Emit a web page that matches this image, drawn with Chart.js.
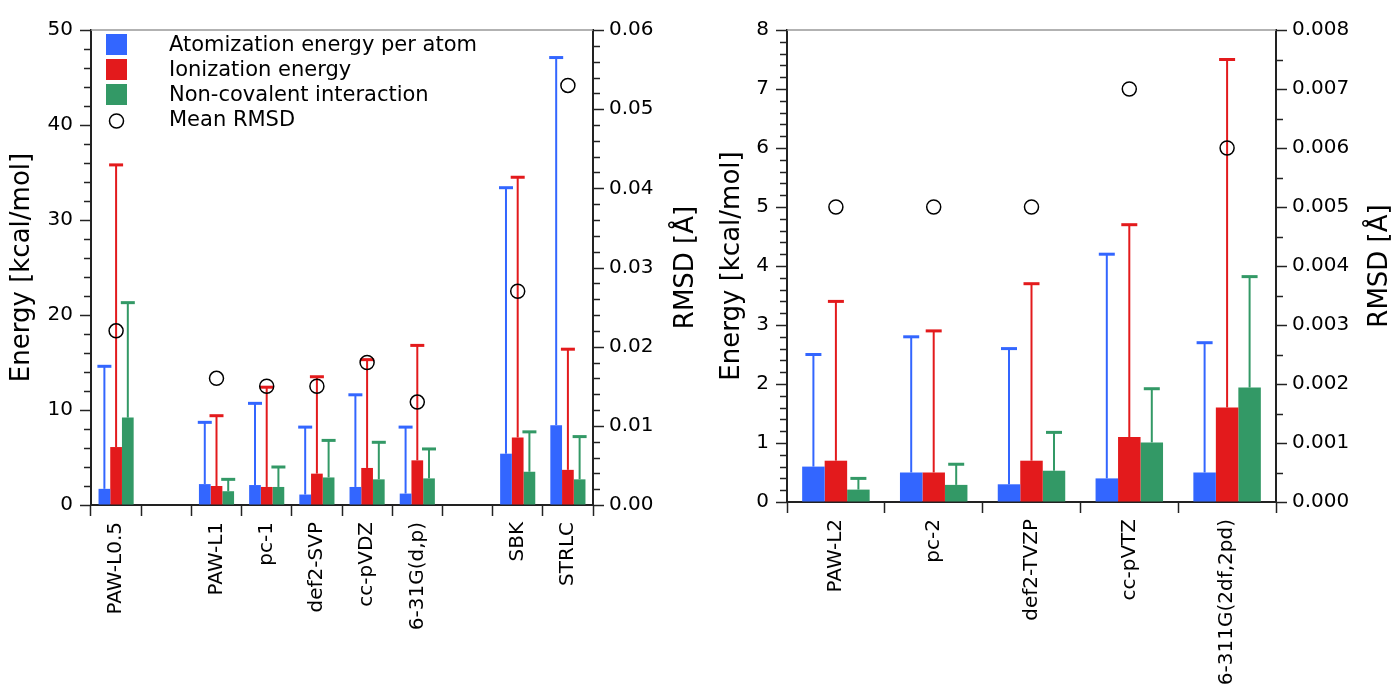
<!DOCTYPE html>
<html>
<head>
<meta charset="utf-8">
<script src="https://cdn.jsdelivr.net/npm/chart.js@4/dist/chart.umd.min.js"></script>
<style>
    body { margin: 0; background: #fff; }
    #leftBox { position: absolute; left: 0; top: 0; }
    #rightBox { position: absolute; left: 700px; top: 0; }
</style>
</head>
<body>
<div id="leftBox"><canvas id="leftChart" width="700" height="691"></canvas></div>
<div id="rightBox"><canvas id="rightChart" width="692" height="691"></canvas></div>
<script>
// Left panel data (empty strings are spacer slots)
const leftLabels = ["PAW-L0.5", "", "PAW-L1", "pc-1", "def2-SVP", "cc-pVDZ", "6-31G(d,p)", "", "SBK", "STRLC"];
const leftAtomization = [1.7, 0, 2.2, 2.1, 1.1, 1.9, 1.2, 0, 5.4, 8.4];
const leftAtomizationMax = [14.6, 0, 8.7, 10.7, 8.2, 11.6, 8.2, 0, 33.4, 47.1];
const leftIonization = [6.1, 0, 2.0, 1.9, 3.3, 3.9, 4.7, 0, 7.1, 3.7];
const leftIonizationMax = [35.8, 0, 9.4, 12.4, 13.5, 15.3, 16.8, 0, 34.5, 16.4];
const leftNonCovalent = [9.2, 0, 1.45, 1.9, 2.9, 2.7, 2.8, 0, 3.5, 2.7];
const leftNonCovalentMax = [21.3, 0, 2.7, 4.0, 6.8, 6.6, 5.9, 0, 7.7, 7.2];
const leftRmsd = [0.022, null, 0.016, 0.015, 0.015, 0.018, 0.013, null, 0.027, 0.053];

// Right panel data
const rightLabels = ["PAW-L2", "pc-2", "def2-TVZP", "cc-pVTZ", "6-311G(2df,2pd)"];
const rightAtomization = [0.6, 0.5, 0.3, 0.4, 0.5];
const rightAtomizationMax = [2.5, 2.8, 2.6, 4.2, 2.7];
const rightIonization = [0.7, 0.5, 0.7, 1.1, 1.6];
const rightIonizationMax = [3.4, 2.9, 3.7, 4.7, 7.5];
const rightNonCovalent = [0.21, 0.29, 0.53, 1.01, 1.94];
const rightNonCovalentMax = [0.4, 0.64, 1.18, 1.92, 3.82];
const rightRmsd = [0.005, 0.005, 0.005, 0.007, 0.006];

const seriesNames = ["Atomization energy per atom", "Ionization energy", "Non-covalent interaction", "Mean RMSD"];
const colors = ["#3366ff", "#e31a1c", "#339966"];

Chart.defaults.font.family = "'DejaVu Sans', sans-serif";
Chart.defaults.font.size = 20;
Chart.defaults.color = "#000";

// draws the one-sided error bars on top of each bar
const errorBars = {
    id: "errorBars",
    afterDatasetDraw(chart, args, opts) {
        const ds = chart.data.datasets[args.index];
        if (!ds.errorMax) return;
        const ctx = chart.ctx;
        const y = chart.scales.y;
        ctx.save();
        ctx.strokeStyle = ds.backgroundColor;
        args.meta.data.forEach((bar, i) => {
            const top = ds.errorMax[i];
            if (!top) return;
            const yTop = y.getPixelForValue(top);
            ctx.lineWidth = 2;
            ctx.beginPath();
            ctx.moveTo(bar.x, bar.y);
            ctx.lineTo(bar.x, yTop);
            ctx.stroke();
            ctx.lineWidth = 3;
            ctx.beginPath();
            ctx.moveTo(bar.x - opts.cap / 2, yTop);
            ctx.lineTo(bar.x + opts.cap / 2, yTop);
            ctx.stroke();
        });
        ctx.restore();
    }
};

// tick marks on both y axes, top frame line and rotated axis titles
const frame = {
    id: "frame",
    afterDraw(chart, args, opts) {
        const ctx = chart.ctx;
        const area = chart.chartArea;
        ctx.save();
        ctx.strokeStyle = "#999";
        ctx.lineWidth = 1.5;
        ctx.beginPath();
        ctx.moveTo(area.left, area.top);
        ctx.lineTo(area.right, area.top);
        ctx.stroke();

        ctx.strokeStyle = "#222";
        ctx.lineWidth = 1.5;
        ["y", "y1"].forEach(id => {
            const s = chart.scales[id];
            const x0 = id === "y" ? area.left : area.right;
            const dir = id === "y" ? -1 : 1;
            s.ticks.forEach(t => {
                const py = Math.round(s.getPixelForValue(t.value)) + 0.5;
                const len = t.label !== "" ? 11 : 7;
                ctx.beginPath();
                ctx.moveTo(x0, py);
                ctx.lineTo(x0 + dir * len, py);
                ctx.stroke();
            });
        });

        const midY = (area.top + area.bottom) / 2;
        ctx.fillStyle = "#000";
        ctx.font = "26px 'DejaVu Sans'";
        ctx.textAlign = "center";
        ctx.textBaseline = "alphabetic";
        [[opts.leftTitleX, "Energy [kcal/mol]"], [opts.rightTitleX, "RMSD [Å]"]].forEach(([x, text]) => {
            ctx.save();
            ctx.translate(x, midY);
            ctx.rotate(-Math.PI / 2);
            ctx.fillText(text, 0, 0);
            ctx.restore();
        });
        ctx.restore();
    }
};

// legend inside the left panel
const insideLegend = {
    id: "insideLegend",
    afterDraw(chart) {
        const ctx = chart.ctx;
        ctx.save();
        ctx.font = "21px 'DejaVu Sans'";
        ctx.fillStyle = "#000";
        ctx.textBaseline = "alphabetic";
        ctx.textAlign = "left";
        for (let i = 0; i < 4; i++) {
            const top = 34 + i * 25;
            if (i < 3) {
                ctx.fillStyle = colors[i];
                ctx.fillRect(106, top, 21, 21);
            } else {
                ctx.strokeStyle = "#000";
                ctx.lineWidth = 1.5;
                ctx.beginPath();
                ctx.arc(116.5, top + 12, 7, 0, Math.PI * 2);
                ctx.stroke();
            }
            ctx.fillStyle = "#000";
            ctx.fillText(seriesNames[i], 169, top + 17);
        }
        ctx.restore();
    }
};

function buildChart(canvasId, cfg) {
    const barSets = [
        [cfg.atom, cfg.atomMax],
        [cfg.ion, cfg.ionMax],
        [cfg.nc, cfg.ncMax]
    ].map((pair, i) => ({
        type: "bar",
        label: seriesNames[i],
        data: pair[0],
        errorMax: pair[1],
        backgroundColor: colors[i],
        yAxisID: "y",
        order: 1,
        categoryPercentage: cfg.catPct,
        barPercentage: 1.0
    }));

    const rmsdSet = {
        type: "line",
        label: seriesNames[3],
        data: cfg.rmsd,
        yAxisID: "y1",
        showLine: false,
        pointStyle: "circle",
        pointRadius: 7,
        pointBorderWidth: 1.5,
        pointBorderColor: "#000",
        pointBackgroundColor: "rgba(0,0,0,0)",
        order: 0
    };

    const yStyle = {
        grid: { display: true, drawOnChartArea: false, drawTicks: false },
        border: { color: "#222", width: 2 }
    };

    return new Chart(document.getElementById(canvasId), {
        data: { labels: cfg.labels, datasets: [...barSets, rmsdSet] },
        options: {
            responsive: false,
            animation: false,
            layout: { padding: { top: cfg.top, left: 0, right: 0, bottom: 0 } },
            plugins: {
                legend: { display: false },
                tooltip: { enabled: false },
                errorBars: { cap: cfg.cap },
                frame: { leftTitleX: cfg.leftTitleX, rightTitleX: cfg.rightTitleX }
            },
            scales: {
                x: {
                    offset: true,
                    grid: { drawOnChartArea: false, drawTicks: true, tickLength: 11, tickColor: "#222", tickWidth: 1.5, offset: true },
                    border: { color: "#222", width: 2 },
                    ticks: { autoSkip: false, minRotation: 90, maxRotation: 90, padding: 6 },
                    afterFit(s) { s.height = cfg.xHeight; }
                },
                y: {
                    ...yStyle,
                    position: "left",
                    min: 0,
                    max: cfg.yMax,
                    ticks: {
                        autoSkip: false,
                        stepSize: cfg.yStep,
                        padding: 18,
                        callback: v => Math.abs(v / cfg.yMajor - Math.round(v / cfg.yMajor)) < 1e-6 ? Math.round(v).toString() : ""
                    },
                    afterFit(s) { s.width = cfg.yWidth; }
                },
                y1: {
                    ...yStyle,
                    position: "right",
                    min: 0,
                    max: cfg.y1Max,
                    ticks: {
                        autoSkip: false,
                        stepSize: cfg.y1Step,
                        padding: 16,
                        callback: v => Math.abs(v / cfg.y1Major - Math.round(v / cfg.y1Major)) < 1e-6 ? v.toFixed(cfg.y1Digits) : ""
                    },
                    afterFit(s) { s.width = cfg.y1Width; }
                }
            }
        },
        plugins: cfg.legend ? [errorBars, frame, insideLegend] : [errorBars, frame]
    });
}

buildChart("leftChart", {
    labels: leftLabels,
    atom: leftAtomization, atomMax: leftAtomizationMax,
    ion: leftIonization, ionMax: leftIonizationMax,
    nc: leftNonCovalent, ncMax: leftNonCovalentMax,
    rmsd: leftRmsd,
    catPct: 0.7, cap: 14,
    top: 22, xHeight: 186, yWidth: 91, y1Width: 107,
    yMax: 50, yStep: 2, yMajor: 10,
    y1Max: 0.06, y1Step: 0.002, y1Major: 0.01, y1Digits: 2,
    leftTitleX: 29, rightTitleX: 693,
    legend: true
});

buildChart("rightChart", {
    labels: rightLabels,
    atom: rightAtomization, atomMax: rightAtomizationMax,
    ion: rightIonization, ionMax: rightIonizationMax,
    nc: rightNonCovalent, ncMax: rightNonCovalentMax,
    rmsd: rightRmsd,
    catPct: 0.69, cap: 16,
    top: 21, xHeight: 189, yWidth: 87, y1Width: 116,
    yMax: 8, yStep: 0.2, yMajor: 1,
    y1Max: 0.008, y1Step: 0.0005, y1Major: 0.001, y1Digits: 3,
    leftTitleX: 39, rightTitleX: 687,
    legend: false
});
</script>
</body>
</html>
